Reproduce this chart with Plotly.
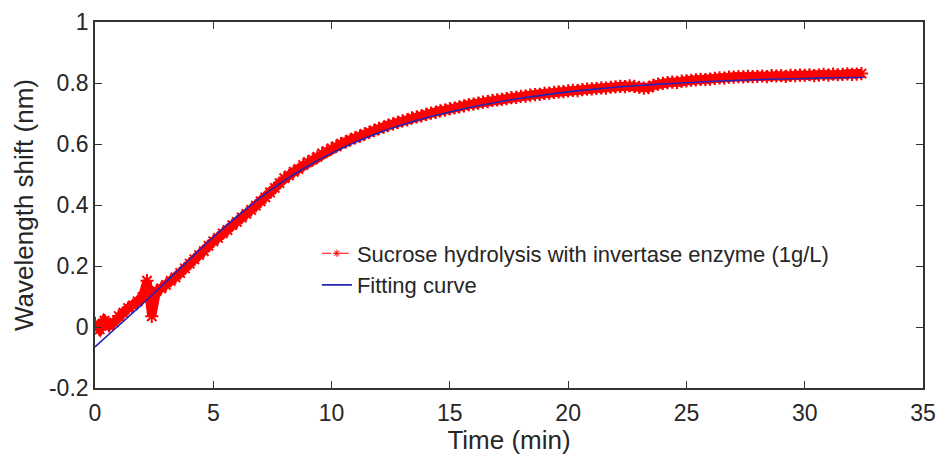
import plotly.graph_objects as go

# Measured wavelength shift during sucrose hydrolysis (sampled every 0.2 min)
time_min = [round(0.2 * i, 1) for i in range(163)]
shift_nm = [
    0.012, -0.008, 0.021, 0.004, 0.015,
    0.036, 0.047, 0.062, 0.071, 0.084,
    0.098, 0.152, 0.035, 0.118, 0.127,
    0.138, 0.151, 0.163, 0.177, 0.192,
    0.208, 0.222, 0.236, 0.249, 0.266,
    0.281, 0.292, 0.307, 0.318, 0.334,
    0.345, 0.359, 0.371, 0.384, 0.398,
    0.412, 0.425, 0.441, 0.456, 0.472,
    0.488, 0.497, 0.509, 0.518, 0.531,
    0.541, 0.549, 0.558, 0.569, 0.577,
    0.586, 0.592, 0.601, 0.607, 0.614,
    0.621, 0.626, 0.633, 0.639, 0.644,
    0.651, 0.655, 0.662, 0.666, 0.671,
    0.676, 0.679, 0.686, 0.689, 0.692,
    0.697, 0.701, 0.704, 0.709, 0.711,
    0.716, 0.718, 0.722, 0.725, 0.729,
    0.731, 0.734, 0.737, 0.739, 0.743,
    0.745, 0.746, 0.749, 0.752, 0.753,
    0.756, 0.757, 0.760, 0.762, 0.763,
    0.766, 0.767, 0.769, 0.771, 0.772,
    0.774, 0.776, 0.775, 0.778, 0.780,
    0.781, 0.782, 0.784, 0.783, 0.786,
    0.787, 0.789, 0.788, 0.791, 0.789,
    0.786, 0.783, 0.785, 0.792, 0.796,
    0.799, 0.801, 0.803, 0.802, 0.806,
    0.807, 0.809, 0.810, 0.812, 0.811,
    0.813, 0.815, 0.817, 0.816, 0.819,
    0.819, 0.821, 0.820, 0.822, 0.821,
    0.822, 0.823, 0.821, 0.824, 0.823,
    0.824, 0.822, 0.825, 0.824, 0.826,
    0.825, 0.827, 0.824, 0.826, 0.828,
    0.826, 0.829, 0.827, 0.828, 0.830,
    0.828, 0.829, 0.831,
]

# Fitted curve
fit_time = [0, 1, 2, 3, 4, 5, 6, 7, 8, 9, 10, 11, 12, 13, 14, 15, 16, 17,
            18, 19, 20, 21, 22, 23, 24, 25, 26, 27, 28, 29, 30, 31, 32, 32.5]
fit_shift = [-0.065, 0.005, 0.075, 0.148, 0.222, 0.295, 0.362, 0.425, 0.48,
             0.528, 0.57, 0.606, 0.637, 0.663, 0.686, 0.705, 0.722, 0.737,
             0.75, 0.761, 0.771, 0.779, 0.786, 0.792, 0.797, 0.801, 0.805,
             0.808, 0.811, 0.813, 0.815, 0.817, 0.818, 0.819]

x_ticks = [0, 5, 10, 15, 20, 25, 30, 35]
x_labels = ["0", "5", "10", "15", "20", "25", "30", "35"]
y_ticks = [-0.2, 0, 0.2, 0.4, 0.6, 0.8, 1]
y_labels = ["-0.2", "0", "0.2", "0.4", "0.6", "0.8", "1"]

RED = "#ff0000"
BLUE = "#2424b4"
AXIS = "#333333"
TEXT = "#262626"
FONT = "Liberation Sans, Arial, sans-serif"

fig = go.Figure()

# dense noisy measurement band
fig.add_trace(go.Scatter(
    x=time_min, y=shift_nm, mode="lines+markers",
    line=dict(color=RED, width=9),
    marker=dict(symbol="asterisk-open", size=11, color=RED,
                line=dict(color=RED, width=2)),
    showlegend=False, hoverinfo="skip",
))
# legend entry for the measurement
fig.add_trace(go.Scatter(
    x=[None], y=[None], mode="lines+markers",
    name="Sucrose hydrolysis with invertase enzyme (1g/L)",
    line=dict(color=RED, width=1, dash="dashdot"),
    marker=dict(symbol="asterisk-open", size=6, color=RED,
                line=dict(color=RED, width=1)),
))
fig.add_trace(go.Scatter(
    x=fit_time, y=fit_shift, mode="lines", name="Fitting curve",
    line=dict(color=BLUE, width=1.6, shape="spline"),
))

axis_common = dict(
    showgrid=False, zeroline=False, showline=True, linecolor=AXIS,
    linewidth=1.6, mirror="ticks", ticks="inside", ticklen=7,
    tickwidth=1.4, tickcolor=AXIS, automargin=False,
    tickfont=dict(family=FONT, size=23, color=TEXT),
)

fig.update_xaxes(
    range=[0, 35], tickvals=x_ticks, ticktext=x_labels,
    ticklabelstandoff=4,
    title=dict(text="Time (min)", font=dict(family=FONT, size=26, color=TEXT),
               standoff=8),
    **axis_common,
)
fig.update_yaxes(
    range=[-0.2, 1], tickvals=y_ticks, ticktext=y_labels,
    title=dict(text="Wavelength shift (nm)",
               font=dict(family=FONT, size=26, color=TEXT), standoff=8),
    **axis_common,
)

fig.update_layout(
    width=938, height=455,
    margin=dict(l=95, r=15, t=22, b=67),
    paper_bgcolor="white", plot_bgcolor="white",
    legend=dict(
        x=0.268, y=0.425, xanchor="left", yanchor="top",
        bgcolor="rgba(0,0,0,0)", borderwidth=0,
        font=dict(family=FONT, size=22, color=TEXT),
        tracegroupgap=0, itemwidth=30,
    ),
)

fig.write_html("out.html")
